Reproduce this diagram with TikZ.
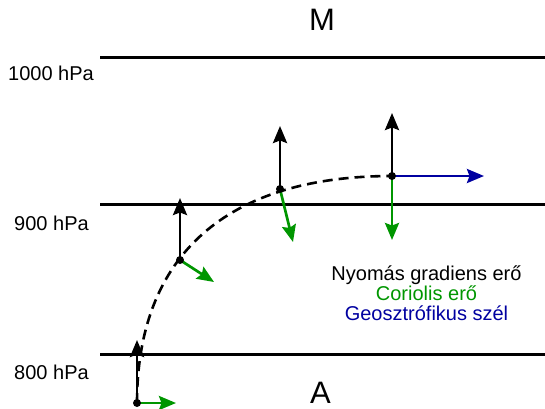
\documentclass[tikz,border=0pt]{standalone}
\usepackage{fontspec}
\setmainfont{Liberation Sans}
\usetikzlibrary{arrows.meta}
\definecolor{cgreen}{RGB}{0,150,0}
\definecolor{cblue}{RGB}{0,0,160}
\begin{document}
\begin{tikzpicture}[x=1pt,y=-1pt,
  level/.style={line width=3pt},
  lbl/.style={anchor=base,inner sep=0pt,font=\fontsize{20}{24}\selectfont},
  big/.style={anchor=base,inner sep=0pt,font=\fontsize{31}{36}\selectfont},
  vec/.style={line width=2.7pt,-{Stealth[length=17pt,width=14pt,inset=2.5pt]}},
  pdot/.style={circle,fill=black,inner sep=0pt,minimum size=8pt},
  path/.style={line width=2.6pt,dash pattern=on 10pt off 6pt}]
\useasboundingbox (0,0) rectangle (545,408);
% pressure levels
\coordinate (L1a) at (100,57);  \coordinate (L1b) at (545,57);
\coordinate (L2a) at (100,204); \coordinate (L2b) at (545,204);
\coordinate (L3a) at (100,354); \coordinate (L3b) at (545,354);
\draw[level] (L1a) -- (L1b);
\draw[level] (L2a) -- (L2b);
\draw[level] (L3a) -- (L3b);
\node[lbl] (t1000) at (51,80) {1000 hPa};
\node[lbl] (t900) at (51.5,230) {900 hPa};
\node[lbl] (t800) at (51.5,379) {800 hPa};
\node[big] (tM) at (322,30) {M};
\node[big] (tA) at (320.5,403) {A};
% trajectory
\coordinate (P1) at (137,403);
\coordinate (P2) at (180,260);
\coordinate (P3) at (280,189);
\coordinate (P4) at (392,176);
\draw[path] (P1) .. controls (137,255.5) and (226.3,176) .. (P4);
% tips
\coordinate (B1) at (137,340);
\coordinate (B2) at (180,198);
\coordinate (B3) at (280,126);
\coordinate (B4) at (392,113);
\coordinate (G1) at (176,403);
\coordinate (G2) at (214,282);
\coordinate (G3) at (293,242);
\coordinate (G4) at (392,240);
\coordinate (W4) at (484,176);
\draw[vec,cgreen] (P1) -- (G1);
\draw[vec,cgreen] (P2) -- (G2);
\draw[vec,cgreen] (P3) -- (G3);
\draw[vec,cgreen] (P4) -- (G4);
\draw[vec,cblue] (P4) -- (W4);
\draw[vec] (P1) -- (B1);
\draw[vec] (P2) -- (B2);
\draw[vec] (P3) -- (B3);
\draw[vec] (P4) -- (B4);
\node[pdot] (d1) at (P1) {};
\node[pdot] (d2) at (P2) {};
\node[pdot] (d3) at (P3) {};
\node[pdot] (d4) at (P4) {};
% legend
\node[lbl] (leg1) at (426.5,280) {Nyomás gradiens erő};
\node[lbl,text=cgreen] (leg2) at (426.5,300) {Coriolis erő};
\node[lbl,text=cblue] (leg3) at (426.5,320) {Geosztrófikus szél};
\end{tikzpicture}
\end{document}
